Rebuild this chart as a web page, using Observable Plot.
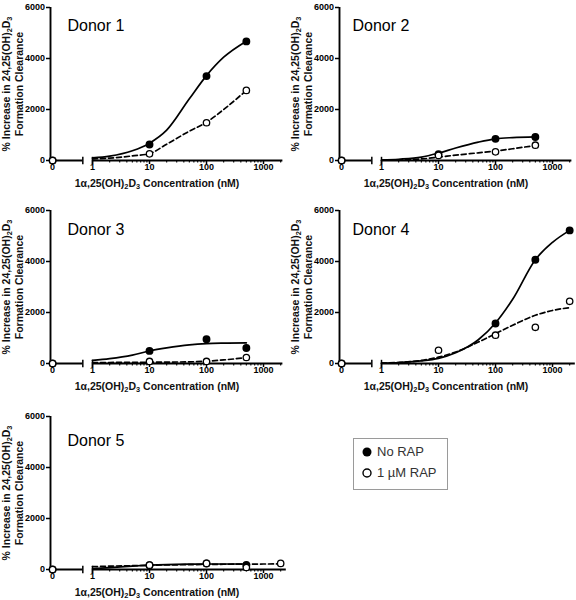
<!DOCTYPE html>
<html>
<head>
<meta charset="utf-8">
<script src="https://cdn.jsdelivr.net/npm/d3@7"></script>
<script src="https://cdn.jsdelivr.net/npm/@observablehq/plot@0.6"></script>
<style>
  body { margin: 0; background: #fff; }
  #root { position: relative; width: 576px; height: 600px; overflow: hidden;
          font-family: "Liberation Sans", Arial, sans-serif; color: #000; }
  .panel { position: absolute; width: 288px; height: 193px; }
  .ylab { position: absolute; font-weight: bold; font-size: 10.5px; line-height: 13px;
          text-align: center; white-space: nowrap; transform: translate(-50%, -50%) rotate(-90deg); color: #111; }
  .xlab { position: absolute; font-weight: bold; font-size: 10.5px; white-space: nowrap;
          transform: translate(-50%, -50%); color: #111; }
  sub { font-size: 0.7em; vertical-align: -0.3em; line-height: 0; }
  .legend { position: absolute; left: 353px; top: 438px; width: 93px; height: 50px;
            border: 1px solid #9a9a9a; font-size: 13px; color: #333; }
  .legend .item { position: absolute; left: 8px; display: flex; align-items: center; }
  .legend svg { margin-right: 5px; }
</style>
</head>
<body>
<div id="root"></div>
<script>
// ---------- tick labels / categories ----------
const donorNames = ["Donor 1", "Donor 2", "Donor 3", "Donor 4", "Donor 5"];
const yTicks = [0, 2000, 4000, 6000];
const xTickValues = [0, 1, 10, 100, 1000];
const xTickLabels = ["0", "1", "10", "100", "1000"];
const seriesNames = ["No RAP", "1 \u00B5M RAP"];

// ---------- measured points (concentration nM, % increase) ----------
const d1Conc = [0, 10, 100, 500];
const d1NoRap = [0, 630, 3310, 4670];
const d1Rap = [0, 260, 1480, 2750];

const d2Conc = [0, 10, 100, 500];
const d2NoRap = [0, 250, 850, 920];
const d2Rap = [0, 200, 340, 600];

const d3Conc = [0, 10, 100, 500];
const d3NoRap = [0, 495, 950, 610];
const d3Rap = [0, 80, 80, 235];

const d4NoRapConc = [0, 100, 500, 2000];
const d4NoRap = [0, 1570, 4070, 5220];
const d4RapConc = [0, 10, 100, 500, 2000];
const d4Rap = [0, 520, 1110, 1420, 2440];

const d5NoRapConc = [0, 10, 100, 500];
const d5NoRap = [0, 170, 235, 175];
const d5RapConc = [0, 10, 100, 500, 2000];
const d5Rap = [0, 170, 240, 80, 240];

// ---------- fitted curves ----------
const fitConc = [1, 2, 5, 10, 20, 50, 100, 200, 500];
const fitConcLong = [1, 2, 5, 10, 20, 50, 100, 200, 500, 1000, 2000];
const d1FitNoRap = [100, 170, 380, 680, 1190, 2420, 3330, 4050, 4680];
const d1FitRap = [60, 95, 180, 270, 640, 1150, 1500, 2000, 2750];
const d2FitNoRap = [20, 50, 130, 290, 490, 720, 850, 900, 930];
const d2FitRap = [10, 25, 60, 130, 210, 300, 370, 460, 590];
const d3FitNoRap = [120, 190, 330, 490, 610, 730, 780, 800, 810];
const d3FitRap = [40, 40, 45, 50, 55, 65, 90, 140, 230];
const d4FitNoRap = [15, 40, 100, 200, 420, 930, 1590, 2520, 4070, 4750, 5220];
const d4FitRap = [15, 40, 120, 250, 450, 840, 1170, 1500, 1890, 2080, 2190];
const d5FitNoRap = [30, 70, 130, 170, 195, 210, 215, 215, 215];
const d5FitRap = [110, 130, 150, 165, 180, 190, 200, 205, 210, 215, 220];

// ---------- layout ----------
const FONT = '"Liberation Sans", Arial, sans-serif';
const ZERO_POS = -0.70, BREAK_POS = -0.17, XMIN = -0.737, PX_PER_DEC = 57;
const pos = c => (c === 0 ? ZERO_POS : Math.log10(c));
const zip = (cs, vs) => cs.map((c, i) => ({c, v: vs[i]}));

const panels = [
  {name: donorNames[0], left: 0, top: 0, xmax: 3.34, tdx: 17, tdy: 18,
   noRap: zip(d1Conc, d1NoRap), rap: zip(d1Conc, d1Rap), fitNoRap: zip(fitConc, d1FitNoRap), fitRap: zip(fitConc, d1FitRap)},
  {name: donorNames[1], left: 289, top: 0, xmax: 3.34, tdx: 13, tdy: 18,
   noRap: zip(d2Conc, d2NoRap), rap: zip(d2Conc, d2Rap), fitNoRap: zip(fitConc, d2FitNoRap), fitRap: zip(fitConc, d2FitRap)},
  {name: donorNames[2], left: 0, top: 203, xmax: 3.34, tdx: 17, tdy: 19,
   noRap: zip(d3Conc, d3NoRap), rap: zip(d3Conc, d3Rap), fitNoRap: zip(fitConc, d3FitNoRap), fitRap: zip(fitConc, d3FitRap)},
  {name: donorNames[3], left: 289, top: 203, xmax: 3.40, tdx: 13, tdy: 19,
   noRap: zip(d4NoRapConc, d4NoRap), rap: zip(d4RapConc, d4Rap), fitNoRap: zip(fitConcLong, d4FitNoRap), fitRap: zip(fitConcLong, d4FitRap)},
  {name: donorNames[4], left: 0, top: 409, xmax: 3.40, tdx: 17, tdy: 24,
   noRap: zip(d5NoRapConc, d5NoRap), rap: zip(d5RapConc, d5Rap), fitNoRap: zip(fitConc, d5FitNoRap), fitRap: zip(fitConcLong, d5FitRap)}
];

const vbar = {
  draw(ctx, size) {
    const h = Math.sqrt(size / Math.PI);
    ctx.moveTo(0, -h); ctx.lineTo(0, h);
  }
};

const root = document.getElementById("root");

for (const p of panels) {
  const majorPos = xTickValues.map(pos);
  const labelMap = new Map(majorPos.map((x, i) => [x, xTickLabels[i]]));
  const minorPos = [];
  for (let k = 0; k < 4; k++) for (let m = 2; m <= 9; m++) {
    const v = m * Math.pow(10, k);
    if (Math.log10(v) <= p.xmax) minorPos.push(Math.log10(v));
  }
  const axisSegs = [{a: XMIN, b: BREAK_POS}, {a: pos(1), b: p.xmax}];
  const breaks = [BREAK_POS, pos(1)];
  const marginLeft = 50;
  const marginRight = 288 - marginLeft - PX_PER_DEC * (p.xmax - XMIN);

  const chart = Plot.plot({
    width: 288, height: 193,
    marginLeft, marginRight, marginTop: 7, marginBottom: 33,
    x: {type: "linear", domain: [XMIN, p.xmax]},
    y: {type: "linear", domain: [0, 6000]},
    style: {fontFamily: FONT, fontSize: "9px", fontWeight: "bold", color: "black",
            background: "transparent", overflow: "visible"},
    marks: [
      Plot.ruleX([XMIN], {strokeWidth: 1.9}),
      Plot.ruleY(axisSegs, {x1: "a", x2: "b", y: 0, strokeWidth: 1.9}),
      Plot.axisY(yTicks, {tickSize: 4, tickPadding: 1.5, tickFormat: d => String(d), strokeWidth: 1.5, label: null}),
      Plot.axisX(majorPos, {tickSize: 4, tickPadding: -1, tickFormat: d => labelMap.get(d), strokeWidth: 1.5, label: null}),
      Plot.axisX(minorPos, {tickSize: 2.5, tickFormat: () => "", strokeWidth: 1.1, label: null}),
      Plot.dot(breaks, {x: d => d, y: 0, symbol: vbar, r: 3.7, stroke: "black", strokeWidth: 1.5, fill: "none"}),
      Plot.line(p.fitNoRap, {x: d => pos(d.c), y: "v", curve: "monotone-x", stroke: "black", strokeWidth: 1.7}),
      Plot.line(p.fitRap, {x: d => pos(d.c), y: "v", curve: "monotone-x", stroke: "black", strokeWidth: 1.7, strokeDasharray: "5,3"}),
      Plot.dot(p.noRap, {x: d => pos(d.c), y: "v", r: 3.2, fill: "black", stroke: "black"}),
      Plot.dot(p.rap, {x: d => pos(d.c), y: "v", r: 3.2, fill: "white", stroke: "black", strokeWidth: 1.3}),
      Plot.text([p.name], {frameAnchor: "top-left", dx: p.tdx, dy: p.tdy, text: d => d,
        textAnchor: "start", lineAnchor: "middle", fontSize: 16, fontWeight: "normal", fill: "black"})
    ]
  });

  const div = document.createElement("div");
  div.className = "panel";
  div.style.left = p.left + "px";
  div.style.top = p.top + "px";
  div.appendChild(chart);
  root.appendChild(div);

  const yl = document.createElement("div");
  yl.className = "ylab";
  yl.style.left = (p.left + 13) + "px";
  yl.style.top = (p.top + 83.5) + "px";
  yl.innerHTML = "% Increase in 24,25(OH)<sub>2</sub>D<sub>3</sub><br>Formation Clearance";
  root.appendChild(yl);

  const xl = document.createElement("div");
  xl.className = "xlab";
  xl.style.left = (p.left + 157) + "px";
  xl.style.top = (p.top + 183) + "px";
  xl.innerHTML = "1\u03B1,25(OH)<sub>2</sub>D<sub>3</sub> Concentration (nM)";
  root.appendChild(xl);
}

// legend
const legend = document.createElement("div");
legend.className = "legend";
seriesNames.forEach((name, i) => {
  const item = document.createElement("div");
  item.className = "item";
  item.style.top = (i === 0 ? 5 : 26) + "px";
  const filled = i === 0;
  item.innerHTML = `<svg width="10" height="10"><circle cx="5" cy="5" r="${filled ? 4.5 : 4}" fill="${filled ? "black" : "white"}" stroke="black" stroke-width="${filled ? 0 : 1.4}"/></svg><span>${name}</span>`;
  legend.appendChild(item);
});
root.appendChild(legend);
</script>
</body>
</html>
